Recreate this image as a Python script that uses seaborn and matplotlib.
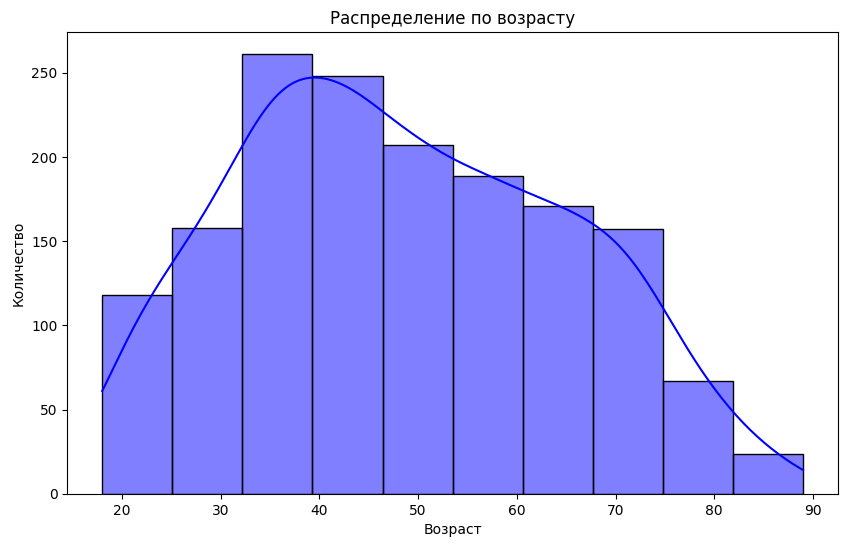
import numpy as np
import pandas as pd
import matplotlib
matplotlib.use('Agg')
import matplotlib.pyplot as plt
import seaborn as sns

# границы бинов и количество людей в каждом бине
age_min = 18
age_max = 89
n_bins = 10
counts = [118, 158, 261, 248, 207, 189, 171, 157, 67, 24]

edges = np.linspace(age_min, age_max, n_bins + 1)
centers = (edges[:-1] + edges[1:]) / 2
df = pd.DataFrame({'age': centers, 'count': counts})

fig, ax = plt.subplots(figsize=(8.5, 5.47), dpi=100)
fig.subplots_adjust(left=0.079, right=0.986, top=0.941, bottom=0.097)

sns.histplot(data=df, x='age', weights='count', bins=n_bins,
             binrange=(age_min, age_max), kde=True,
             color='blue', edgecolor='black', alpha=0.5, ax=ax,
             kde_kws={'cut': 3, 'clip': (age_min, age_max), 'bw_adjust': 0.42})

ax.set_title('Распределение по возрасту')
ax.set_xlabel('Возраст')
ax.set_ylabel('Количество')

plt.savefig('out.png')
